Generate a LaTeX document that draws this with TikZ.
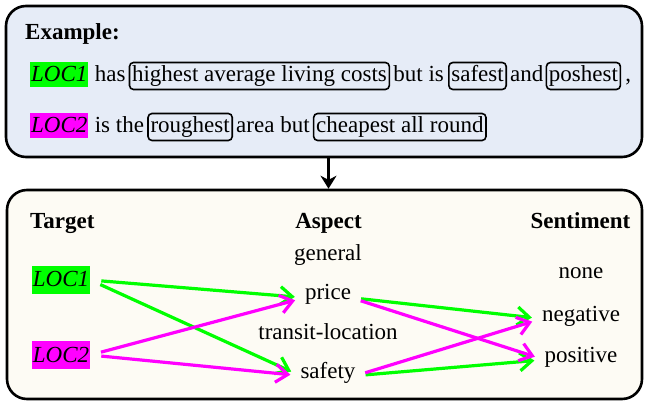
\documentclass[tikz,border=0pt]{standalone}
\usepackage{fontspec}
\setmainfont{Liberation Serif}
\usetikzlibrary{arrows.meta, positioning}
\definecolor{Topfill}{RGB}{230, 236, 247}
\definecolor{Botfill}{RGB}{253, 251, 244}
\definecolor{LocOnecol}{RGB}{0, 255, 0}
\definecolor{LocTwocol}{RGB}{255, 0, 255}

\begin{document}
\begin{tikzpicture}[
    x=1pt, y=-1pt,
    every node/.style={font=\fontsize{23}{27}\selectfont, inner sep=0pt},
    panel/.style={
        draw=black, line width=2.6pt,
        rounded corners=20pt
    },
    spanbox/.style={
        draw=black, rounded corners=4pt, line width=1.6pt,
        inner xsep=2.5pt, inner ysep=3.5pt,
        text height=16pt, text depth=4pt
    },
    hlbox/.style={
        inner xsep=1pt, inner ysep=2.5pt,
        text height=17pt, text depth=3pt,
        font=\fontsize{23}{27}\selectfont\itshape
    },
    colhead/.style={font=\fontsize{23}{27}\selectfont\bfseries},
    arrowstyle/.style={
        -{Straight Barb[length=12pt, width=18pt]},
        line width=3.2pt,
        shorten <=10pt, shorten >=10pt
    }
]
    \useasboundingbox (0,0) rectangle (645,403);

    % ------------------- PANNELLI -------------------
    \node[panel, fill=Topfill, minimum width=636pt, minimum height=151pt] (expanel) at (324,81.5) {};
    \node[panel, fill=Botfill, minimum width=635pt, minimum height=209pt] (tripanel) at (324.5,294.5) {};

    % ------------------- ESEMPIO (riquadro alto) -------------------
    \node[colhead, anchor=base west] (exlabel) at (25,40) {Example:};

    % prima riga
    \node[hlbox, fill=LocOnecol, anchor=base west] (exlocone) at (30,82) {LOC1};
    \node[base right=6pt of exlocone] (exhas) {has};
    \node[spanbox, base right=3pt of exhas] (excosts) {highest average living costs};
    \node[base right=3pt of excosts] (exbutis) {but is};
    \node[spanbox, base right=4pt of exbutis] (exsafest) {safest};
    \node[base right=3pt of exsafest] (exand) {and};
    \node[spanbox, base right=2pt of exand] (exposhest) {poshest};
    \node[base right=4pt of exposhest] (excomma) {,};

    % seconda riga
    \node[hlbox, fill=LocTwocol, anchor=base west] (exloctwo) at (30,133) {LOC2};
    \node[base right=6pt of exloctwo] (existhe) {is the};
    \node[spanbox, base right=3pt of existhe] (exrough) {roughest};
    \node[base right=3pt of exrough] (exareabut) {area but};
    \node[spanbox, base right=3pt of exareabut] (excheap) {cheapest all round};

    % ------------------- TRIPLE (riquadro basso) -------------------
    \node[colhead, anchor=base west] (target) at (30,229) {Target};
    \node[colhead, anchor=base] (aspect) at (328.5,229) {Aspect};
    \node[colhead, anchor=base] (sentiment) at (580.5,229) {Sentiment};

    % freccia tra i pannelli
    \draw[line width=3pt, -{Stealth[length=13pt, width=16pt]}] (expanel.south -| aspect.south) -- (tripanel.north -| aspect.north);

    % target
    \node[hlbox, fill=LocOnecol, inner ysep=4pt, anchor=base] (locone) at (61,287) {LOC1};
    \node[hlbox, fill=LocTwocol, inner ysep=4pt, anchor=base] (loctwo) at (61,362) {LOC2};

    % aspetti
    \node[anchor=base] (general) at (328,261) {general};
    \node[anchor=base] (price) at (328,300) {price};
    \node[anchor=base] (transit) at (328,339) {transit-location};
    \node[anchor=base] (safety) at (328,378) {safety};

    % sentimenti
    \node[anchor=base] (none) at (581,279) {none};
    \node[anchor=base] (negative) at (581,321) {negative};
    \node[anchor=base] (positive) at (581,362) {positive};

    % --- frecce LOC1 (verde) ---
    \draw[arrowstyle, LocOnecol, shorten <=11pt] (locone.east) -- (price.mid west);
    \draw[arrowstyle, LocOnecol, shorten <=11pt] (locone.east) -- (safety.mid west);
    \draw[arrowstyle, LocOnecol] (price.mid east) -- (negative.mid west);
    \draw[arrowstyle, LocOnecol] (safety.mid east) -- (positive.mid west);

    % --- frecce LOC2 (magenta) ---
    \draw[arrowstyle, LocTwocol, shorten <=11pt] (loctwo.east) -- (price.mid west);
    \draw[arrowstyle, LocTwocol, shorten <=11pt] (loctwo.east) -- (safety.mid west);
    \draw[arrowstyle, LocTwocol] (price.mid east) -- (positive.mid west);
    \draw[arrowstyle, LocTwocol] (safety.mid east) -- (negative.mid west);
\end{tikzpicture}
\end{document}
